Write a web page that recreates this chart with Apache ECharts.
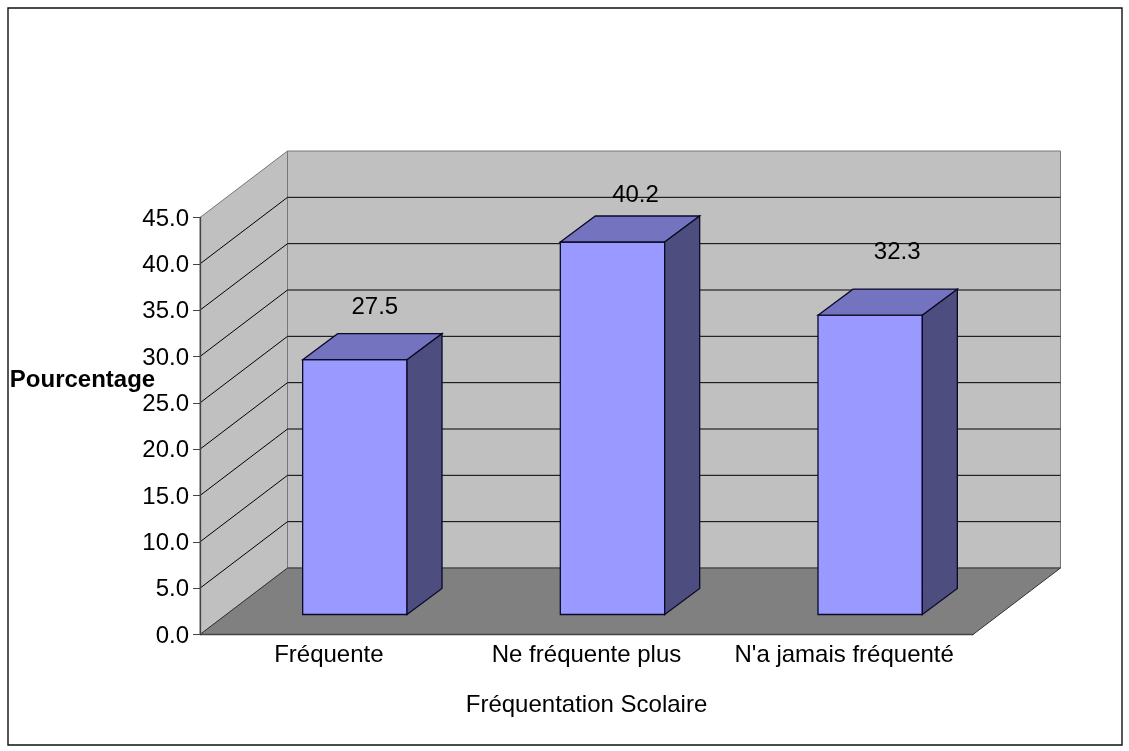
<!DOCTYPE html>
<html>
<head>
<meta charset="utf-8">
<title>Fréquentation Scolaire</title>
<script src="https://cdn.jsdelivr.net/npm/echarts@6/dist/echarts.min.js"></script>
<style>
  html, body { margin: 0; padding: 0; background: #fff; }
  #chart { width: 1129px; height: 751px; }
</style>
</head>
<body>
<div id="chart"></div>
<script>
(function() {
  'use strict';

  // 数据
  const categories = ['Fréquente', 'Ne fréquente plus', "N'a jamais fréquenté"];
  const values = [27.5, 40.2, 32.3];
  const gridValues = [5, 10, 15, 20, 25, 30, 35, 40];
  const yMin = 0;
  const yMax = 45;
  const yStep = 5;

  // 伪3D 的偏移量（像素）
  const wallDepthX = 87.5;
  const wallDepthY = 66.5;
  const barDepthX = 35;
  const barDepthY = 26;
  const barFrontX = 26;
  const barFrontY = 20;
  const labelShift = [[20, 52], [23, 47], [27, 63]];

  const fontFamily = '"Liberation Sans", Arial, sans-serif';
  const fontSize = 24;

  function poly(points, fill, stroke, width) {
    return {
      type: 'polygon',
      shape: { points: points },
      style: { fill: fill, stroke: stroke, lineWidth: width || 1 }
    };
  }

  function line(a, b, color) {
    return {
      type: 'line',
      shape: { x1: a[0], y1: a[1], x2: b[0], y2: b[1] },
      style: { stroke: color, lineWidth: 1, fill: null }
    };
  }

  // 背景墙和地面
  function renderWalls(params) {
    const g = params.coordSys;
    const l = g.x, r = g.x + g.width, t = g.y, b = g.y + g.height;
    const dx = wallDepthX, dy = wallDepthY;
    return {
      type: 'group',
      children: [
        poly([[l + dx, t - dy], [r + dx, t - dy], [r + dx, b - dy], [l + dx, b - dy]], '#c0c0c0', '#777777'),
        poly([[l, t], [l + dx, t - dy], [l + dx, b - dy], [l, b]], '#c0c0c0', '#777777'),
        poly([[l, b], [l + dx, b - dy], [r + dx, b - dy], [r, b]], '#808080', '#333333')
      ]
    };
  }

  // 墙上的网格线
  function renderGridLine(params, api) {
    const g = params.coordSys;
    const y = api.coord([0, api.value(1)])[1];
    const l = g.x, r = g.x + g.width;
    return {
      type: 'group',
      children: [
        line([l, y], [l + wallDepthX, y - wallDepthY], '#000000'),
        line([l + wallDepthX, y - wallDepthY], [r + wallDepthX, y - wallDepthY], '#000000')
      ]
    };
  }

  // 柱子：正面、顶面、侧面和数值
  function renderBar(params, api) {
    const i = params.dataIndex;
    const top = api.coord([api.value(0), api.value(1)]);
    const base = api.coord([api.value(0), 0]);
    const half = api.size([1, 0])[0] * 0.405 / 2;
    const x0 = top[0] + barFrontX - half;
    const x1 = top[0] + barFrontX + half;
    const y0 = top[1] - barFrontY;
    const y1 = base[1] - barFrontY;
    const dx = barDepthX, dy = barDepthY;
    const edge = '#0a0a28';
    return {
      type: 'group',
      children: [
        poly([[x0, y0], [x1, y0], [x1, y1], [x0, y1]], '#9999ff', edge, 1.3),
        poly([[x0, y0], [x0 + dx, y0 - dy], [x1 + dx, y0 - dy], [x1, y0]], '#7373bf', edge, 1.3),
        poly([[x1, y0], [x1 + dx, y0 - dy], [x1 + dx, y1 - dy], [x1, y1]], '#4d4d80', edge, 1.3),
        {
          type: 'text',
          style: {
            x: (x0 + x1) / 2 + labelShift[i][0],
            y: y0 - labelShift[i][1],
            text: api.value(1).toFixed(1),
            fill: '#000',
            font: fontSize + 'px ' + fontFamily,
            align: 'center',
            verticalAlign: 'middle'
          }
        }
      ]
    };
  }

  const chart = echarts.init(document.getElementById('chart'), null, { renderer: 'canvas' });

  chart.setOption({
    animation: false,
    backgroundColor: '#ffffff',
    textStyle: { fontFamily: fontFamily },
    grid: { left: 200, top: 217.5, width: 773, height: 417, containLabel: false, outerBoundsMode: 'none' },
    graphic: [
      {
        type: 'rect',
        shape: { x: 8, y: 8, width: 1114, height: 737 },
        style: { fill: null, stroke: '#111111', lineWidth: 1.4 }
      },
      {
        // 纵轴标题压在刻度旁边，不在轴的正中
        type: 'text',
        z: 10,
        style: {
          x: 82.5,
          y: 380,
          text: 'Pourcentage',
          fill: '#000',
          font: 'bold ' + fontSize + 'px ' + fontFamily,
          align: 'center',
          verticalAlign: 'middle'
        }
      }
    ],
    xAxis: {
      type: 'category',
      data: categories,
      z: 6,
      name: 'Fréquentation Scolaire',
      nameLocation: 'middle',
      nameGap: 59,
      nameTextStyle: { fontSize: fontSize, color: '#000', fontFamily: fontFamily },
      axisLine: { lineStyle: { color: '#444444', width: 1.3 } },
      axisTick: { show: false },
      axisLabel: { color: '#000', fontSize: fontSize, margin: 9, interval: 0, fontFamily: fontFamily }
    },
    yAxis: {
      type: 'value',
      min: yMin,
      max: yMax,
      interval: yStep,
      z: 6,
      axisLine: { show: true, lineStyle: { color: '#444444', width: 1.3 } },
      axisTick: { show: true, length: 7, lineStyle: { color: '#444444', width: 1 } },
      axisLabel: {
        color: '#000',
        fontSize: fontSize,
        margin: 11,
        verticalAlign: 'top',
        lineHeight: 3,
        fontFamily: fontFamily,
        formatter: function(v) { return v.toFixed(1); }
      },
      splitLine: { show: false }
    },
    series: [
      {
        name: 'walls',
        type: 'custom',
        z: 1,
        clip: false,
        silent: true,
        renderItem: renderWalls,
        data: [[0, yMax]]
      },
      {
        name: 'grid',
        type: 'custom',
        z: 2,
        clip: false,
        silent: true,
        renderItem: renderGridLine,
        data: gridValues.map(function(v) { return [0, v]; })
      },
      {
        name: 'Pourcentage',
        type: 'custom',
        z: 3,
        clip: false,
        renderItem: renderBar,
        data: values.map(function(v, i) { return [i, v]; })
      }
    ]
  });

  window.addEventListener('resize', function() {
    chart.resize();
  });
})();
</script>
</body>
</html>
